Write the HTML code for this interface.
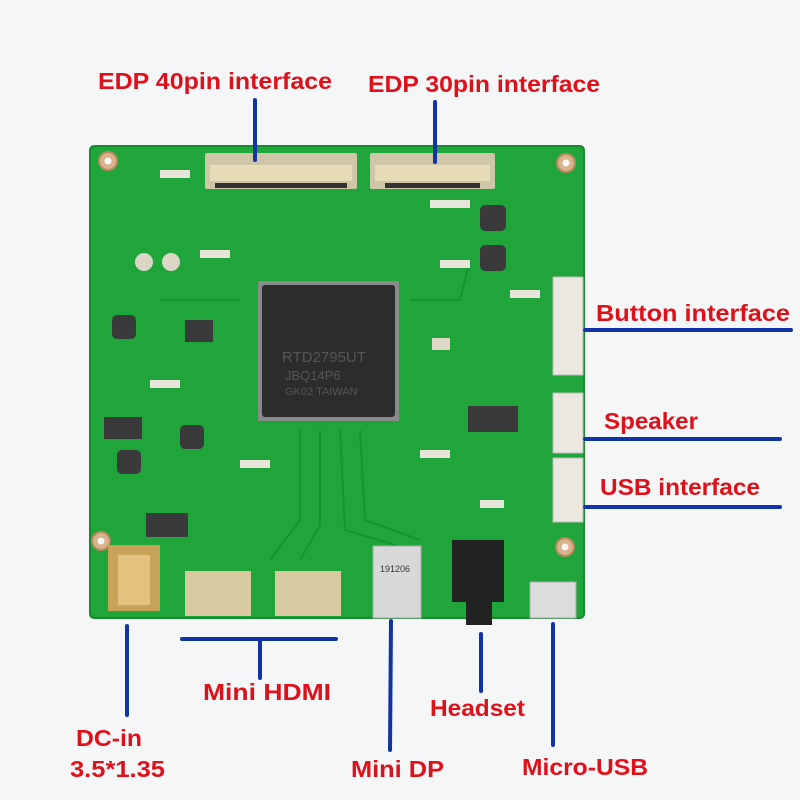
<!DOCTYPE html>
<html><head><meta charset="utf-8"><style>
html,body{margin:0;padding:0;background:#f4f6f7;}
svg{display:block}
text{font-family:"Liberation Sans",sans-serif;font-weight:bold;fill:#e0101a;font-size:23px}
</style></head><body>
<svg width="800" height="800" viewBox="0 0 800 800" xmlns="http://www.w3.org/2000/svg">
<rect width="800" height="800" fill="#f4f6f7"/>
<rect x="90" y="146" width="494" height="472" rx="4" fill="#1fa53a"/>
<rect x="90" y="146" width="494" height="472" rx="4" fill="none" stroke="#178a2e" stroke-width="2"/>
<g stroke="#178f30" stroke-width="2" fill="none" opacity="0.8">
<path d="M300 430 L300 520 L270 560"/><path d="M320 430 L320 525 L300 560"/>
<path d="M340 430 L345 530 L395 545"/><path d="M360 430 L365 520 L420 540"/>
<path d="M410 300 L460 300 L470 260"/><path d="M160 300 L240 300"/>
</g>
<g fill="#d9b38a" stroke="#b58a60" stroke-width="2">
<circle cx="108" cy="161" r="9"/><circle cx="566" cy="163" r="9"/>
<circle cx="101" cy="541" r="9"/><circle cx="565" cy="547" r="9"/>
</g>
<g fill="#f4f6f7"><circle cx="108" cy="161" r="3.5"/><circle cx="566" cy="163" r="3.5"/><circle cx="101" cy="541" r="3.5"/><circle cx="565" cy="547" r="3.5"/></g>
<rect x="205" y="153" width="152" height="36" fill="#cfc6a8" rx="2"/>
<rect x="210" y="165" width="142" height="16" fill="#e8dcb8"/>
<rect x="215" y="183" width="132" height="5" fill="#333"/>
<rect x="370" y="153" width="125" height="36" fill="#cfc6a8" rx="2"/>
<rect x="375" y="165" width="115" height="16" fill="#e8dcb8"/>
<rect x="385" y="183" width="95" height="5" fill="#333"/>
<rect x="258" y="281" width="141" height="140" fill="#8a8a8a"/>
<rect x="262" y="285" width="133" height="132" rx="3" fill="#2c2c2e"/>
<text x="282" y="362" style="font-size:15px;font-weight:normal;fill:#555">RTD2795UT</text>
<text x="285" y="380" style="font-size:13px;font-weight:normal;fill:#555">JBQ14P6</text>
<text x="285" y="395" style="font-size:11px;font-weight:normal;fill:#555">GK02 TAIWAN</text>
<g fill="#3a3a3a"><rect x="112" y="315" width="24" height="24" rx="5"/><rect x="180" y="425" width="24" height="24" rx="5"/>
<rect x="117" y="450" width="24" height="24" rx="5"/><rect x="480" y="205" width="26" height="26" rx="5"/><rect x="480" y="245" width="26" height="26" rx="5"/>
<rect x="104" y="417" width="38" height="22"/><rect x="146" y="513" width="42" height="24"/>
<rect x="468" y="406" width="50" height="26"/><rect x="185" y="320" width="28" height="22"/></g>
<g fill="#dcd6c6"><circle cx="144" cy="262" r="9"/><circle cx="171" cy="262" r="9"/><rect x="432" y="338" width="18" height="12"/></g>
<g fill="#e8e6dc">
<rect x="160" y="170" width="30" height="8"/><rect x="430" y="200" width="40" height="8"/><rect x="510" y="290" width="30" height="8"/>
<rect x="200" y="250" width="30" height="8"/><rect x="440" y="260" width="30" height="8"/><rect x="240" y="460" width="30" height="8"/>
<rect x="420" y="450" width="30" height="8"/><rect x="480" y="500" width="24" height="8"/><rect x="150" y="380" width="30" height="8"/>
</g>
<g fill="#ece8e0" stroke="#bbb"><rect x="553" y="277" width="30" height="98"/><rect x="553" y="393" width="30" height="60"/><rect x="553" y="458" width="30" height="64"/></g>
<rect x="108" y="545" width="52" height="66" fill="#c9a25a"/>
<rect x="118" y="555" width="32" height="50" fill="#e2c27e"/>
<rect x="185" y="571" width="66" height="45" fill="#d9c9a0"/>
<rect x="275" y="571" width="66" height="45" fill="#d9c9a0"/>
<rect x="373" y="546" width="48" height="72" fill="#d8d8d8" stroke="#aaa"/>
<text x="380" y="572" style="font-size:9px;font-weight:normal;fill:#333">191206</text>
<rect x="452" y="540" width="52" height="62" fill="#222"/>
<rect x="466" y="600" width="26" height="25" fill="#222"/>
<rect x="530" y="582" width="46" height="36" fill="#dcdcdc" stroke="#aaa"/>
<g stroke="#1034a8" stroke-width="4" stroke-linecap="round" fill="none">
<line x1="255" y1="100" x2="255" y2="160"/>
<line x1="435" y1="102" x2="435" y2="162"/>
<line x1="585" y1="330" x2="791" y2="330"/>
<line x1="585" y1="439" x2="780" y2="439"/>
<line x1="585" y1="507" x2="780" y2="507"/>
<line x1="127" y1="626" x2="127" y2="715"/>
<line x1="182" y1="639" x2="336" y2="639"/>
<line x1="260" y1="639" x2="260" y2="678"/>
<line x1="391" y1="621" x2="390" y2="750"/>
<line x1="481" y1="634" x2="481" y2="691"/>
<line x1="553" y1="624" x2="553" y2="745"/>
</g>
<text x="98" y="89" textLength="234" lengthAdjust="spacingAndGlyphs">EDP 40pin interface</text>
<text x="368" y="92" textLength="232" lengthAdjust="spacingAndGlyphs">EDP 30pin interface</text>
<text x="596" y="321" textLength="194" lengthAdjust="spacingAndGlyphs">Button interface</text>
<text x="604" y="429" textLength="94" lengthAdjust="spacingAndGlyphs">Speaker</text>
<text x="600" y="495" textLength="160" lengthAdjust="spacingAndGlyphs">USB interface</text>
<text x="76" y="746" textLength="66" lengthAdjust="spacingAndGlyphs">DC-in</text>
<text x="70" y="777" textLength="95" lengthAdjust="spacingAndGlyphs">3.5*1.35</text>
<text x="203" y="700" textLength="128" lengthAdjust="spacingAndGlyphs">Mini HDMI</text>
<text x="351" y="777" textLength="93" lengthAdjust="spacingAndGlyphs">Mini DP</text>
<text x="430" y="716" textLength="95" lengthAdjust="spacingAndGlyphs">Headset</text>
<text x="522" y="775" textLength="126" lengthAdjust="spacingAndGlyphs">Micro-USB</text>
</svg>
</body></html>
